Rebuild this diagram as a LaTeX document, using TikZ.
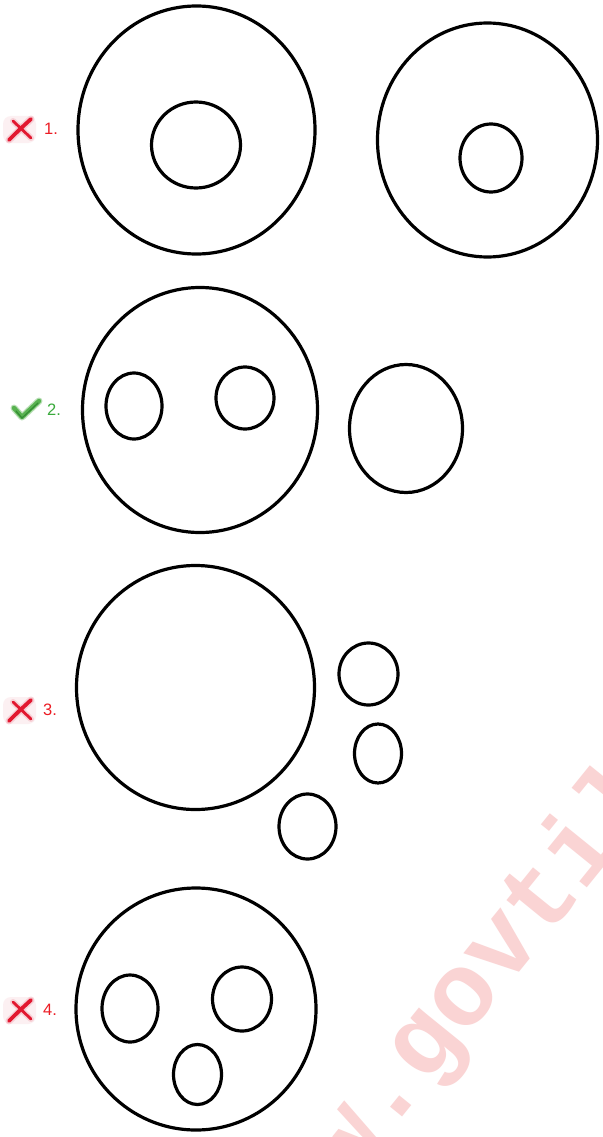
\documentclass[tikz,border=0pt]{standalone}
\usepackage{fontspec}
\setmainfont{Liberation Sans}
\newfontfamily\wmfont{Liberation Mono}
\definecolor{xred}{RGB}{226,24,48}
\definecolor{xpink}{RGB}{246,196,204}
\definecolor{lblred}{RGB}{236,28,36}
\definecolor{lblgreen}{RGB}{58,170,60}
\definecolor{ckgreen}{RGB}{88,178,80}
\definecolor{ckdark}{RGB}{52,140,52}
\definecolor{wmpink}{RGB}{250,212,212}
\begin{document}
\begin{tikzpicture}[x=1pt,y=-1pt,
  shapeline/.style={line width=3.2pt,draw=black},
  lbl/.style={font=\fontsize{16.5}{16.5}\selectfont,inner sep=0pt},
  wrong/.style={lbl,text=lblred},
  right/.style={lbl,text=lblgreen}]
\useasboundingbox (0,0) rectangle (602,1137);
\clip (0,0) rectangle (602,1137);
\fill[white] (0,0) rectangle (602,1137);
% watermark
\node[text=wmpink,font=\wmfont\bfseries\fontsize{104}{104}\selectfont,anchor=base west,rotate=51,inner sep=0pt] (wm) at (348,1184) {w.govtilive};
% ---- row 1
\draw[shapeline] (196.5,130) ellipse [x radius=118.5,y radius=124];
\draw[shapeline] (196,145) ellipse [x radius=44.5,y radius=43];
\draw[shapeline] (487.5,140) ellipse [x radius=110,y radius=117];
\draw[shapeline] (491,158) ellipse [x radius=31,y radius=34];
% ---- row 2
\draw[shapeline] (200,410) ellipse [x radius=117.5,y radius=122.5];
\draw[shapeline] (134,406) ellipse [x radius=28,y radius=33];
\draw[shapeline] (245,398) ellipse [x radius=29,y radius=31];
\draw[shapeline] (406,428.5) ellipse [x radius=56.5,y radius=64];
% ---- row 3
\draw[shapeline] (195.5,687.5) ellipse [x radius=119,y radius=122];
\draw[shapeline] (368.5,674) ellipse [x radius=29.5,y radius=31];
\draw[shapeline] (378,753.5) ellipse [x radius=23.5,y radius=29.5];
\draw[shapeline] (307.5,826.5) ellipse [x radius=28.5,y radius=32.5];
% ---- row 4
\draw[shapeline] (196,1009) ellipse [x radius=120,y radius=121];
\draw[shapeline] (130,1008.5) ellipse [x radius=28,y radius=33.5];
\draw[shapeline] (242,999) ellipse [x radius=29.5,y radius=32];
\draw[shapeline] (197.5,1074.5) ellipse [x radius=24,y radius=30];
% ---- markers
\foreach \yy/\nm in {129/1,710/3,1010/4}{
  \begin{scope}[shift={(0,\yy)}]
    \fill[xpink,opacity=0.25,rounded corners=8pt] (3,-13) rectangle (36,14);
    \draw[xpink,opacity=0.7,line width=7pt,line cap=round] (9,11) -- (31,-10);
    \draw[xpink,opacity=0.7,line width=6pt,line cap=round] (13,-8) -- (31,9);
    \draw[xred,line width=3.8pt,line cap=round] (9,11) .. controls (18,2) .. (31,-10);
    \draw[xred,line width=2.8pt,line cap=round] (13,-8) .. controls (22,0) .. (31,9);
  \end{scope}
}
\begin{scope}[shift={(0,410)}]
  \draw[ckgreen!40,line width=7pt,line cap=round,line join=round] (14,-2) -- (22,7) -- (39,-9);
  \draw[ckgreen,line width=4.5pt,line cap=round,line join=round] (14,-2) -- (22,7) -- (39,-9);
  \draw[ckdark,line width=1.2pt,line cap=round] (16,1) -- (22,8) -- (38,-7);
\end{scope}
\node[wrong,anchor=west] (l1) at (44,129) {1.};
\node[right,anchor=west] (l2) at (47,410) {2.};
\node[wrong,anchor=west] (l3) at (43,710) {3.};
\node[wrong,anchor=west] (l4) at (43,1010) {4.};
\end{tikzpicture}
\end{document}
